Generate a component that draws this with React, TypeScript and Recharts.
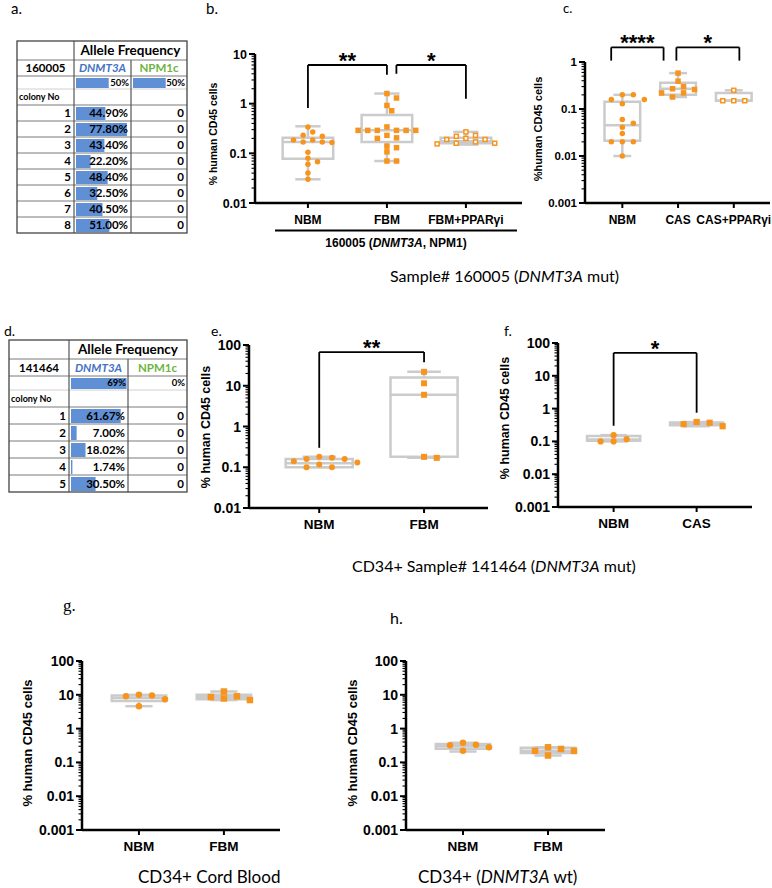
import React from 'react';
import {
  ComposedChart, Scatter, XAxis, YAxis, ReferenceArea, ReferenceLine, ReferenceDot,
  BarChart, Bar,
} from 'recharts';

const ORANGE = '#F7941D';
const BOX = '#CBCBCB';
const BAR_BLUE = '#5F8FD5';
const AX = '"Liberation Sans", Arial, sans-serif';
const TXT = 'Lato, "Open Sans", sans-serif';

// ---------- Table a (sample 160005) ----------
const aSample = '160005';
const aBulk = [50, 50]; // DNMT3A, NPM1c
const aColonies = [1, 2, 3, 4, 5, 6, 7, 8];
const aDNMT3A = [44.9, 77.8, 43.4, 22.2, 48.4, 32.5, 40.5, 51.0];
const aNPM1c = [0, 0, 0, 0, 0, 0, 0, 0];

// ---------- Table d (sample 141464) ----------
const dSample = '141464';
const dBulk = [69, 0];
const dColonies = [1, 2, 3, 4, 5];
const dDNMT3A = [61.67, 7.0, 18.02, 1.74, 30.5];
const dNPM1c = [0, 0, 0, 0, 0];

// ---------- Panel b ----------
const bCategories = ['NBM', 'FBM', 'FBM+PPARγi'];
const bNBM = [0.34, 0.27, 0.23, 0.22, 0.185, 0.185, 0.17, 0.165, 0.17, 0.105, 0.08, 0.068, 0.06, 0.04, 0.03];
const bFBM = [1.6, 1.3, 0.92, 0.72, 0.34, 0.29, 0.29, 0.29, 0.29, 0.29, 0.29, 0.23, 0.205, 0.2, 0.14, 0.13, 0.107, 0.07, 0.07];
const bPPAR = [0.27, 0.23, 0.22, 0.2, 0.19, 0.19, 0.17, 0.16, 0.16, 0.155];
const bBoxNBM = [0.03, 0.078, 0.17, 0.205, 0.35]; // min, q1, median, q3, max
const bBoxFBM = [0.07, 0.17, 0.29, 0.59, 1.6];
const bBoxPPAR = [0.15, 0.16, 0.175, 0.205, 0.27];
const bBrackets = [
  { x1: 1, x2: 2, y: 6, yl: 0.82, yr: 3.8, stars: '**' },
  { x1: 2.12, x2: 3, y: 6, yl: 4, yr: 1.25, stars: '*' },
];

// ---------- Panel c ----------
const cCategories = ['NBM', 'CAS', 'CAS+PPARγi'];
const cNBM = [0.2, 0.2, 0.16, 0.16, 0.13, 0.06, 0.05, 0.041, 0.03, 0.02, 0.02, 0.02, 0.01];
const cCAS = [0.58, 0.39, 0.3, 0.27, 0.26, 0.22, 0.22, 0.18];
const cPPAR = [0.25, 0.15, 0.15, 0.15];
const cBoxNBM = [0.01, 0.021, 0.045, 0.143, 0.2];
const cBoxCAS = [0.18, 0.2, 0.27, 0.36, 0.58];
const cBoxPPAR = [0.15, 0.15, 0.15, 0.22, 0.25];
const cBrackets = [
  { x1: 0.8, x2: 1.74, y: 2.05, yl: 1.07, yr: 1.07, stars: '****' },
  { x1: 1.97, x2: 3.1, y: 2.05, yl: 1.07, yr: 1.07, stars: '*' },
];

// ---------- Panel e ----------
const eCategories = ['NBM', 'FBM'];
const eNBM = [0.16, 0.16, 0.18, 0.17, 0.14, 0.13, 0.117, 0.1, 0.1];
const eFBM = [22, 11.5, 6, 0.17, 0.18];
const eBoxNBM = [0.1, 0.1, 0.125, 0.16, 0.18];
const eBoxFBM = [0.17, 0.18, 6, 16, 22];
const eBrackets = [{ x1: 1, x2: 2, y: 67, yl: 0.3, yr: 37.6, stars: '**' }];

// ---------- Panel f ----------
const fCategories = ['NBM', 'CAS'];
const fNBM = [0.155, 0.1, 0.1, 0.117];
const fCAS = [0.29, 0.39, 0.335, 0.37];
const fBoxNBM = [0.1, 0.105, 0.115, 0.145, 0.155];
const fBoxCAS = [0.29, 0.31, 0.35, 0.38, 0.39];
const fBrackets = [{ x1: 1, x2: 2, y: 50, yl: 0.3, yr: 0.75, stars: '*' }];

// ---------- Panel g ----------
const gCategories = ['NBM', 'FBM'];
const gNBM = [10, 9.1, 9.5, 7.4, 4.6];
const gFBM = [12.5, 7, 9, 7.8, 8.6];
const gBoxNBM = [4.6, 6.5, 8.1, 9.5, 10];
const gBoxFBM = [7, 7.4, 8.6, 10, 12.5];

// ---------- Panel h ----------
const hCategories = ['NBM', 'FBM'];
const hNBM = [0.38, 0.22, 0.33, 0.28, 0.32];
const hFBM = [0.28, 0.16, 0.25, 0.22, 0.22];
const hBoxNBM = [0.21, 0.255, 0.3, 0.35, 0.38];
const hBoxFBM = [0.16, 0.19, 0.22, 0.27, 0.28];

type Shape = 'circle' | 'square' | 'open';
interface Group { values: number[]; box: number[]; shape: Shape }
interface Bracket { x1: number; x2: number; y: number; yl: number; yr: number; stars: string }
interface Spec {
  axisX: number; top: number; bottom: number; right: number;
  yMin: number; yMax: number; xEnd: number;
  categories: string[]; groups: Group[]; brackets: Bracket[];
  tickFont: number; catFont: number; dot: number; step: number;
}

function logTicks(min: number, max: number) {
  const out: number[] = [];
  const d0 = Math.round(Math.log10(min));
  const d1 = Math.round(Math.log10(max));
  for (let d = d0; d < d1; d++) {
    for (let k = 1; k < 10; k++) out.push(Number((k * Math.pow(10, d)).toPrecision(2)));
  }
  out.push(max);
  return out;
}

// beeswarm offsets (in data units) computed from values
function swarm(values: number[], pxU: number, pxD: number, dia: number, step: number) {
  const order = values.map((_, i) => i).sort((a, b) => values[b] - values[a]);
  const placed: { x: number; y: number }[] = [];
  const xs = new Array(values.length).fill(0);
  const half = step / 2;
  for (const i of order) {
    const y = -Math.log10(values[i]) * pxD;
    for (let k = 0; k < 400; k++) {
      const off = k === 0 ? 0 : (k % 2 === 1 ? 1 : -1) * Math.ceil(k / 2) * half;
      const ok = placed.every((p) => ((p.x - off) / step) ** 2 + ((p.y - y) / dia) ** 2 >= 0.999);
      if (ok) {
        xs[i] = off;
        placed.push({ x: off, y });
        break;
      }
    }
  }
  return xs.map((px) => px / pxU);
}

function Mark({ cx, cy, shape, size }: any) {
  if (cx == null || cy == null) return null;
  const h = size / 2;
  if (shape === 'circle') return <circle cx={cx} cy={cy} r={h} fill={ORANGE} />;
  if (shape === 'square') return <rect x={cx - h} y={cy - h} width={size} height={size} fill={ORANGE} />;
  return (
    <rect x={cx - h + 0.75} y={cy - h + 0.75} width={size - 1.5} height={size - 1.5}
      fill="#fff" stroke={ORANGE} strokeWidth={1.5} />
  );
}

function BoxPanel({ p }: { p: Spec }) {
  const padL = 70, padT = 45, padR = 12, padB = 34, YW = 60, XH = 30;
  const plotW = p.right - p.axisX;
  const plotH = p.bottom - p.top;
  const X0 = 0.33;
  const pxU = plotW / (p.xEnd - X0);
  const pxD = plotH / Math.log10(p.yMax / p.yMin);
  const ticks = logTicks(p.yMin, p.yMax);
  const cats = p.categories.map((_, i) => i + 1);

  const yTick = (props: any) => {
    const { x, y, payload } = props;
    const v = payload.value;
    const lg = Math.log10(v);
    const major = Math.abs(lg - Math.round(lg)) < 1e-6;
    return (
      <g>
        <line x1={x - (major ? 6 : 3.5)} x2={x} y1={y} y2={y} stroke="#000" strokeWidth={major ? 2 : 1.1} />
        {major ? (
          <text x={x - 8} y={y} dy="0.36em" textAnchor="end" fontFamily={AX} fontWeight="bold"
            fontSize={p.tickFont} fill="#000">{String(v)}</text>
        ) : null}
      </g>
    );
  };
  const xTick = (props: any) => {
    const { x, y, payload } = props;
    const lab = p.categories[Math.round(payload.value) - 1];
    return (
      <g>
        <line x1={x} x2={x} y1={y} y2={y + 5} stroke="#000" strokeWidth={2} />
        <text x={x} y={y + 21} textAnchor="middle" fontFamily={AX} fontWeight="bold"
          fontSize={p.catFont} fill="#000">{lab}</text>
      </g>
    );
  };

  const boxes: any[] = [];
  const scatters: any[] = [];
  p.groups.forEach((g, i) => {
    const c = i + 1;
    const [mn, q1, md, q3, mx] = g.box;
    const ls = { stroke: BOX, strokeWidth: 2.5, ifOverflow: 'visible' as const };
    boxes.push(
      <ReferenceLine key={`wu${i}`} segment={[{ x: c, y: q3 }, { x: c, y: mx }]} {...ls} />,
      <ReferenceLine key={`wl${i}`} segment={[{ x: c, y: mn }, { x: c, y: q1 }]} {...ls} />,
      <ReferenceLine key={`cu${i}`} segment={[{ x: c - 0.16, y: mx }, { x: c + 0.16, y: mx }]} {...ls} />,
      <ReferenceLine key={`cl${i}`} segment={[{ x: c - 0.16, y: mn }, { x: c + 0.16, y: mn }]} {...ls} />,
      <ReferenceArea key={`bx${i}`} x1={c - 0.32} x2={c + 0.32} y1={q1} y2={q3} fill="none"
        stroke={BOX} strokeWidth={2.5} ifOverflow="visible" />,
      <ReferenceLine key={`md${i}`} segment={[{ x: c - 0.32, y: md }, { x: c + 0.32, y: md }]} {...ls} />,
    );
    const offs = swarm(g.values, pxU, pxD, g.shape === 'open' ? p.dot + 0.5 : p.dot, p.step);
    const pts = g.values.map((v, k) => ({ x: c + offs[k], y: v }));
    scatters.push(
      <Scatter key={`s${i}`} data={pts} dataKey="y" isAnimationActive={false}
        shape={(sp: any) => <Mark cx={sp.cx} cy={sp.cy} shape={g.shape} size={p.dot} />} />,
    );
  });
  const brs: any[] = [];
  p.brackets.forEach((b, i) => {
    const ls = { stroke: '#000', strokeWidth: 1.8, ifOverflow: 'visible' as const };
    brs.push(
      <ReferenceLine key={`bh${i}`} segment={[{ x: b.x1, y: b.y }, { x: b.x2, y: b.y }]} {...ls} />,
      <ReferenceLine key={`bl${i}`} segment={[{ x: b.x1, y: b.yl }, { x: b.x1, y: b.y }]} {...ls} />,
      <ReferenceLine key={`br${i}`} segment={[{ x: b.x2, y: b.yr }, { x: b.x2, y: b.y }]} {...ls} />,
      <ReferenceDot key={`bs${i}`} x={(b.x1 + b.x2) / 2} y={b.y} r={0} ifOverflow="visible"
        shape={(sp: any) => (
          <text x={sp.cx} y={sp.cy + 3} textAnchor="middle" fontFamily={AX} fontWeight="bold"
            fontSize={22} fill="#000">{b.stars}</text>
        )} />,
    );
  });

  return (
    <div style={{ position: 'absolute', left: p.axisX - padL, top: p.top - padT }}>
      <ComposedChart width={plotW + padL + padR} height={plotH + padT + padB}
        margin={{ top: padT, right: padR, bottom: padB - XH, left: padL - YW }}>
        <XAxis type="number" dataKey="x" domain={[X0, p.xEnd]} ticks={cats} interval={0}
          tickSize={0} tickMargin={0} height={XH} allowDataOverflow
          axisLine={{ stroke: '#000', strokeWidth: 2.5 }} tickLine={false} tick={xTick} />
        <YAxis type="number" dataKey="y" scale="log" domain={[p.yMin, p.yMax]} ticks={ticks}
          interval={0} tickSize={0} tickMargin={0} width={YW} allowDataOverflow
          axisLine={{ stroke: '#000', strokeWidth: 2.5 }} tickLine={false} tick={yTick} />
        {boxes}
        {scatters}
        {brs}
      </ComposedChart>
    </div>
  );
}

function CellBars({ left, top, width, height, values, max, barSize }: any) {
  const data = values.map((v: number, i: number) => ({ i, v }));
  return (
    <div style={{ position: 'absolute', left, top }}>
      <BarChart width={width} height={height} data={data} layout="vertical"
        margin={{ top: 0, right: 0, bottom: 0, left: 0 }} barCategoryGap={0}>
        <XAxis type="number" domain={[0, max]} hide allowDataOverflow />
        <YAxis type="category" dataKey="i" hide />
        <Bar dataKey="v" fill={BAR_BLUE} barSize={barSize} isAnimationActive={false} />
      </BarChart>
    </div>
  );
}

function AlleleTable({ cols, rows, sample, bulk, colonies, dnmt, npm, max }: any) {
  const [x0, x1, x2, x3] = cols;
  const yTop = rows[0];
  const yBot = rows[rows.length - 1];
  const mid = (i: number) => (rows[i] + rows[i + 1]) / 2;
  const scaleW = x3 - x2 - 3;
  const lines: any[] = [];
  for (let i = 1; i < rows.length - 1; i++) {
    const light = i === 3;
    lines.push(<line key={`h${i}`} x1={x0} x2={x3} y1={rows[i]} y2={rows[i]}
      stroke={light ? '#d0d0d0' : '#7a7a7a'} strokeWidth={1} />);
  }
  const tb = { fontFamily: TXT, fontWeight: 'bold' as const, fill: '#000' };
  return (
    <>
      <CellBars left={x1 + 1.5} top={rows[2] + 1} width={scaleW} height={rows[3] - rows[2] - 2}
        values={[bulk[0]]} max={max} barSize={rows[3] - rows[2] - 3} />
      <CellBars left={x2 + 1.5} top={rows[2] + 1} width={scaleW} height={rows[3] - rows[2] - 2}
        values={[bulk[1]]} max={max} barSize={rows[3] - rows[2] - 3} />
      <CellBars left={x1 + 1.5} top={rows[4]} width={scaleW} height={yBot - rows[4]}
        values={dnmt} max={max} barSize={rows[5] - rows[4] - 3} />
      <svg width={772} height={888} style={{ position: 'absolute', left: 0, top: 0, pointerEvents: 'none' }}>
        {lines}
        <line x1={x1} x2={x1} y1={yTop} y2={yBot} stroke="#555" strokeWidth={1.2} />
        <line x1={x2} x2={x2} y1={rows[1]} y2={yBot} stroke="#555" strokeWidth={1.2} />
        <rect x={x0} y={yTop} width={x3 - x0} height={yBot - yTop} fill="none" stroke="#444" strokeWidth={1.3} />
        <text x={(x1 + x3) / 2} y={mid(0)} dy="0.36em" textAnchor="middle" fontSize={13.5} {...tb}>Allele Frequency</text>
        <text x={(x0 + x1) / 2} y={mid(1)} dy="0.36em" textAnchor="middle" fontSize={11.5} {...tb}>{sample}</text>
        <text x={(x1 + x2) / 2} y={mid(1)} dy="0.36em" textAnchor="middle" fontSize={11.5} {...tb}
          fill="#4472C4" fontStyle="italic">DNMT3A</text>
        <text x={(x2 + x3) / 2} y={mid(1)} dy="0.36em" textAnchor="middle" fontSize={11.5} {...tb}
          fill="#6DB33F">NPM1c</text>
        <text x={x2 - 2} y={mid(2)} dy="0.36em" textAnchor="end" fontSize={9.5} {...tb}>{bulk[0]}%</text>
        <text x={x3 - 2} y={mid(2)} dy="0.36em" textAnchor="end" fontSize={9.5} {...tb}>{bulk[1]}%</text>
        <text x={x0 + 2} y={mid(3)} dy="0.36em" textAnchor="start" fontSize={9} {...tb}>colony No</text>
        {colonies.map((c: number, i: number) => (
          <g key={`r${i}`}>
            <text x={x1 - 3} y={mid(4 + i)} dy="0.36em" textAnchor="end" fontSize={11.5} {...tb}>{c}</text>
            <text x={x2 - 3} y={mid(4 + i)} dy="0.36em" textAnchor="end" fontSize={11.5} {...tb}>{dnmt[i].toFixed(2)}%</text>
            <text x={x3 - 3} y={mid(4 + i)} dy="0.36em" textAnchor="end" fontSize={11.5} {...tb}>{npm[i]}</text>
          </g>
        ))}
      </svg>
    </>
  );
}

const specB: Spec = {
  axisX: 255, top: 54, bottom: 203, right: 522, yMin: 0.01, yMax: 10, xEnd: 3.71,
  categories: bCategories,
  groups: [
    { values: bNBM, box: bBoxNBM, shape: 'circle' },
    { values: bFBM, box: bBoxFBM, shape: 'square' },
    { values: bPPAR, box: bBoxPPAR, shape: 'open' },
  ],
  brackets: bBrackets, tickFont: 12.5, catFont: 12, dot: 5.5, step: 9.6,
};
const specC: Spec = {
  axisX: 585, top: 62, bottom: 203, right: 770, yMin: 0.001, yMax: 1, xEnd: 3.65,
  categories: cCategories,
  groups: [
    { values: cNBM, box: cBoxNBM, shape: 'circle' },
    { values: cCAS, box: cBoxCAS, shape: 'square' },
    { values: cPPAR, box: cBoxPPAR, shape: 'open' },
  ],
  brackets: cBrackets, tickFont: 11.5, catFont: 12, dot: 5.5, step: 11,
};
const specE: Spec = {
  axisX: 249, top: 345, bottom: 508, right: 488, yMin: 0.01, yMax: 100, xEnd: 2.61,
  categories: eCategories,
  groups: [
    { values: eNBM, box: eBoxNBM, shape: 'circle' },
    { values: eFBM, box: eBoxFBM, shape: 'square' },
  ],
  brackets: eBrackets, tickFont: 14, catFont: 13.5, dot: 6, step: 12.7,
};
const specF: Spec = {
  axisX: 558, top: 343, bottom: 507, right: 752, yMin: 0.001, yMax: 100, xEnd: 2.667,
  categories: fCategories,
  groups: [
    { values: fNBM, box: fBoxNBM, shape: 'circle' },
    { values: fCAS, box: fBoxCAS, shape: 'square' },
  ],
  brackets: fBrackets, tickFont: 14, catFont: 13.5, dot: 6.2, step: 13,
};
const specG: Spec = {
  axisX: 82, top: 661, bottom: 830, right: 280, yMin: 0.001, yMax: 100, xEnd: 2.66,
  categories: gCategories,
  groups: [
    { values: gNBM, box: gBoxNBM, shape: 'circle' },
    { values: gFBM, box: gBoxFBM, shape: 'square' },
  ],
  brackets: [], tickFont: 14, catFont: 13.5, dot: 6.5, step: 13,
};
const specH: Spec = {
  axisX: 406, top: 661, bottom: 830, right: 605, yMin: 0.001, yMax: 100, xEnd: 2.67,
  categories: hCategories,
  groups: [
    { values: hNBM, box: hBoxNBM, shape: 'circle' },
    { values: hFBM, box: hBoxFBM, shape: 'square' },
  ],
  brackets: [], tickFont: 14, catFont: 13.5, dot: 6.5, step: 13,
};

function YLabel({ cx, cy, size, text }: any) {
  return (
    <text x={cx} y={cy} transform={`rotate(-90 ${cx} ${cy})`} textAnchor="middle" dy="0.36em"
      fontFamily={AX} fontWeight="bold" fontSize={size} fill="#000">{text}</text>
  );
}

export default function App() {
  const lt = { fontFamily: TXT, fill: '#000' };
  return (
    <div style={{ position: 'absolute', left: 0, top: 0, width: 772, height: 888, background: '#fff', overflow: 'hidden' }}>
      <AlleleTable cols={[17, 74, 131, 187]}
        rows={[41, 60, 76, 89, 105, 121, 137, 153, 169, 185, 201, 217, 233]}
        sample={aSample} bulk={aBulk} colonies={aColonies} dnmt={aDNMT3A} npm={aNPM1c} max={81} />
      <AlleleTable cols={[9, 69, 128, 187]}
        rows={[340, 359, 376, 390, 407, 424, 441, 458, 475, 492]}
        sample={dSample} bulk={dBulk} colonies={dColonies} dnmt={dDNMT3A} npm={dNPM1c} max={69.5} />
      <BoxPanel p={specB} />
      <BoxPanel p={specC} />
      <BoxPanel p={specE} />
      <BoxPanel p={specF} />
      <BoxPanel p={specG} />
      <BoxPanel p={specH} />
      <svg width={772} height={888} style={{ position: 'absolute', left: 0, top: 0, pointerEvents: 'none' }}>
        <text x={11} y={14} fontSize={15} {...lt}>a.</text>
        <text x={206} y={14} fontSize={15} {...lt}>b.</text>
        <text x={563} y={13} fontSize={13} {...lt}>c.</text>
        <text x={4} y={336} fontSize={14} {...lt}>d.</text>
        <text x={211} y={336} fontSize={14} {...lt}>e.</text>
        <text x={504} y={336} fontSize={14} {...lt}>f.</text>
        <text x={63} y={611} fontSize={17} fontFamily='"Liberation Serif", serif' fill="#000">g.</text>
        <text x={390} y={624} fontSize={16} {...lt}>h.</text>

        <YLabel cx={213} cy={134} size={10.5} text="% human CD45 cells" />
        <YLabel cx={538} cy={129} size={11} text="%human CD45 cells" />
        <YLabel cx={205} cy={427} size={12.5} text="% human CD45 cells" />
        <YLabel cx={504} cy={418} size={12.5} text="% human CD45 cells" />
        <YLabel cx={27} cy={743} size={13} text="% human CD45 cells" />
        <YLabel cx={352} cy={743} size={13} text="% human CD45 cells" />

        <line x1={275} x2={517} y1={230.5} y2={230.5} stroke="#000" strokeWidth={2} />
        <text x={396} y={247} textAnchor="middle" fontFamily={AX} fontWeight="bold" fontSize={12} fill="#000">
          160005 (<tspan fontStyle="italic">DNMT3A</tspan>, NPM1)
        </text>

        <text x={390} y={282} fontSize={16} {...lt}>Sample# 160005 (<tspan fontStyle="italic">DNMT3A</tspan> mut)</text>
        <text x={352} y={572} fontSize={16} {...lt}>CD34+ Sample# 141464 (<tspan fontStyle="italic">DNMT3A</tspan> mut)</text>
        <text x={138} y={883} fontSize={17} {...lt}>CD34+ Cord Blood</text>
        <text x={418} y={883} fontSize={17} {...lt}>CD34+ (<tspan fontStyle="italic">DNMT3A</tspan> wt)</text>
      </svg>
    </div>
  );
}
